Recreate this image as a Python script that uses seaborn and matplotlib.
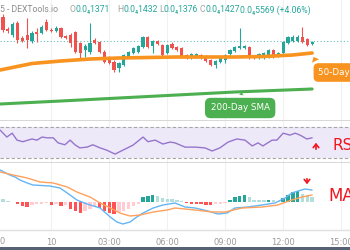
import matplotlib
matplotlib.use("Agg")
import matplotlib.pyplot as plt
import numpy as np
import seaborn as sns

# ---- price candles (15 min bars, index 0 = 21:30) ----
opens = [1451, 1439, 1433, 1445, 1430, 1433, 1427, 1436, 1435, 1446,
         1438, 1437, 1440, 1432, 1433, 1436, 1425, 1418, 1416, 1428,
         1426, 1416, 1411, 1406, 1400, 1403, 1411, 1415, 1416, 1421,
         1431, 1422, 1427, 1423, 1415, 1424, 1421, 1420, 1413, 1410,
         1411, 1413, 1412, 1408, 1403, 1406, 1408, 1414, 1417, 1420,
         1420, 1421, 1412, 1410, 1410, 1411, 1418, 1412, 1415, 1425,
         1427, 1427, 1431, 1429, 1424]
highs = [1454, 1441, 1446, 1447, 1432, 1450, 1437, 1440, 1443, 1449,
         1440, 1442, 1441, 1433, 1435, 1437, 1426, 1424, 1445, 1430,
         1427, 1418, 1412, 1408, 1406, 1414, 1417, 1421, 1423, 1432,
         1432, 1428, 1428, 1424, 1424, 1426, 1422, 1421, 1414, 1415,
         1415, 1414, 1413, 1409, 1408, 1411, 1414, 1419, 1422, 1440,
         1423, 1422, 1413, 1415, 1416, 1419, 1419, 1416, 1427, 1432,
         1433, 1433, 1441, 1430, 1427]
lows = [1436, 1435, 1431, 1425, 1426, 1420, 1425, 1426, 1434, 1437,
        1436, 1436, 1430, 1429, 1421, 1415, 1410, 1411, 1414, 1424,
        1415, 1405, 1404, 1396, 1396, 1402, 1410, 1414, 1415, 1420,
        1420, 1415, 1423, 1412, 1414, 1419, 1417, 1410, 1409, 1409,
        1410, 1409, 1406, 1402, 1400, 1405, 1405, 1413, 1416, 1419,
        1419, 1409, 1409, 1409, 1409, 1410, 1410, 1411, 1414, 1424,
        1426, 1426, 1425, 1422, 1423]
closes = [1438, 1437, 1444, 1428, 1427, 1428, 1435, 1434, 1441, 1438,
          1437, 1440, 1431, 1430, 1425, 1416, 1415, 1422, 1425, 1425,
          1416, 1406, 1405, 1398, 1405, 1413, 1416, 1420, 1422, 1431,
          1421, 1427, 1424, 1413, 1423, 1420, 1418, 1411, 1410, 1414,
          1414, 1410, 1407, 1403, 1407, 1410, 1413, 1418, 1421, 1422,
          1422, 1410, 1410, 1414, 1415, 1418, 1411, 1415, 1426, 1431,
          1431, 1431, 1426, 1423, 1426]
last_price = 1427

sma50_pos = [-0.6, 6, 12, 18, 24, 30, 36, 42, 48, 54, 60, 64]
sma50 = [1398, 1404.5, 1407, 1409, 1410, 1410.5, 1411, 1411, 1411, 1411.5, 1413, 1415]
sma200_pos = [-0.6, 12, 24, 36, 48, 64]
sma200 = [1364, 1367, 1370, 1373, 1376, 1379]

# ---- RSI ----
rsi_pos = [-0.6, 0.8, 1.9, 2.9, 4.1, 6.0, 7.0, 8.1, 9.1, 10.4, 11.4, 12.8, 13.9, 14.9, 15.9,
           17.4, 18.6, 20.1, 21.5, 23.2, 24.8, 26.9, 29.0, 30.0, 31.5, 33.1, 34.6, 35.6, 37.7,
           39.8, 41.8, 43.3, 44.9, 46.6, 48.4, 50.1, 51.6, 52.8, 53.8, 55.7, 56.7, 58.0, 59.4,
           60.5, 61.5, 62.9, 64.0]
rsi_val = [66, 57, 62, 53, 51, 54.5, 53, 57, 56, 56, 49.5, 47, 53, 47, 43,
           44, 47, 43, 40, 35, 40, 46.5, 57, 51, 53, 48, 50.5, 49.5, 44,
           44, 43, 39, 43, 50.5, 54.5, 53, 45.5, 49.5, 45.5, 53, 53, 62, 59.5,
           62, 59.5, 54.5, 56]

# ---- MACD ----
macd_pos = [-0.6, 1.4, 2.5, 3.5, 5.0, 6.2, 9.7, 11.8, 13.3, 15.3, 17.4, 20.1, 22.2, 23.6, 24.8,
            26.3, 27.7, 29.0, 31.1, 33.1, 35.6, 37.7, 39.8, 42.4, 44.5, 46.4, 48.0, 50.7, 53.6,
            56.3, 58.4, 59.8, 61.1, 62.5, 64.0]
macd_val = [32, 27, 25, 22, 19, 17, 16, 14, 9, 2, -2, -6, -15, -20, -22,
            -20, -15, -11, -6, -3, -1, -5, -6, -9, -12, -11, -6, -5, -3,
            -1, 4, 9, 11, 13, 12]
signal_pos = [-0.6, 2.1, 5.0, 7.7, 10.4, 13.3, 15.3, 18.0, 20.1, 22.2, 24.2, 26.3, 28.4,
              31.1, 34.0, 35.6, 39.8, 43.3, 46.0, 49.5, 53.6, 56.9, 59.8, 61.9, 64.0]
signal_val = [30, 27, 24, 20, 19, 15, 10, 5, -1, -6, -11, -14, -13,
              -10, -8, -6, -8, -10, -10, -6, -5, -3, 2, 5, 7]
hist = [3, 1.5, 0.5, -2, -3.5, -5, -3, -2, -1.5, -1,
        -2.5, -1.5, -4, -2.5, -6.5, -8.5, -11, -8.5, -6.5, -5,
        -6, -8.5, -11, -12, -10, -8.5, -6.5, -3.5, -1.5, 5,
        6, 6.7, 5.7, 4.3, 3.3, 3.0, 2.3, 1.5, -0.7, -1.7,
        -1.8, -1.9, -2.5, -3.3, -2.3, -1.7, -0.7, 2.3, 5, 6.5,
        6.8, 5, 2.3, 2.0, 1.7, 2.3, 1.7, 1.5, 4.3, 7.5,
        10, 11, 8.3, 6.7, 5]

tick_pos = [10, 22, 34, 46, 58, 70]
tick_labels = ["10", "03:00", "06:00", "09:00", "12:00", "15:00"]

GREEN = "#26a69a"
RED = "#ef5350"
ORANGE = "#f7931e"
SMA_GREEN = "#4caf50"
PURPLE = "#9575cd"
GRID = "#f1f1f1"
NOTE_RED = "#f0141e"

sns.set_theme(style="white")
plt.rcParams["font.family"] = ["DejaVu Sans"]

fig = plt.figure(figsize=(3.5, 2.5), dpi=100)
ax_p = fig.add_axes([0, 0.516, 1, 0.484])
ax_r = fig.add_axes([0, 0.348, 1, 0.168])
ax_m = fig.add_axes([0, 0.08, 1, 0.268])
XLIM = (-0.62, 71.84)

for ax in (ax_p, ax_r, ax_m):
    ax.set_xlim(*XLIM)
    for s in ("left", "right", "top"):
        ax.spines[s].set_visible(False)
    ax.spines["bottom"].set_color("#d4d4d4")
    ax.spines["bottom"].set_linewidth(1.3)
    ax.set_yticks([])
    ax.set_xticks(tick_pos)
    for t in tick_pos:
        ax.axvline(t, color=GRID, lw=0.8, zorder=0)
    ax.tick_params(axis="x", length=0, labelbottom=False)

# price panel
o, h, l, c = map(np.array, (opens, highs, lows, closes))
idx = np.arange(len(o))
cols = np.where(c >= o, GREEN, RED)
ax_p.vlines(idx, l, h, colors=cols, lw=0.8, zorder=3)
ax_p.bar(idx, np.maximum(np.abs(c - o), 0.9), bottom=np.minimum(o, c), width=0.66,
         color=cols, linewidth=0, zorder=3)
ax_p.axhline(last_price, color=GREEN, lw=0.8, ls=(0, (1, 2)), alpha=0.7, zorder=2)
sns.lineplot(x=sma50_pos, y=sma50, ax=ax_p, color=ORANGE, lw=2.6, zorder=4)
sns.lineplot(x=sma200_pos, y=sma200, ax=ax_p, color=SMA_GREEN, lw=2.2, zorder=4)
ax_p.set_ylim(1347, 1468)
ax_p.set_xlim(*XLIM)

ax_p.annotate("50-Day SMA", xy=(64.0, 1413.5), xytext=(65.3, 1395.5), textcoords="data",
              ha="left", va="center", fontsize=6.3, color="white", annotation_clip=False,
              bbox=dict(boxstyle="round,pad=0.55", fc=ORANGE, ec="none"),
              arrowprops=dict(arrowstyle="wedge,tail_width=0.9", fc=ORANGE, ec="none",
                              relpos=(0.02, 0.95)), zorder=5)
ax_p.annotate("200-Day SMA", xy=(49.5, 1378.5), xytext=(49.1, 1360), textcoords="data",
              ha="center", va="center", fontsize=6.3, color="white",
              bbox=dict(boxstyle="round,pad=0.65", fc=SMA_GREEN, ec="none"),
              arrowprops=dict(arrowstyle="wedge,tail_width=0.5", fc=SMA_GREEN, ec="none",
                              relpos=(0.5, 1.0)), zorder=5)

# RSI panel
ax_r.axhspan(30, 70, color="#eee9f8", lw=0, zorder=0)
ax_r.axhline(70, color="#a5a5a5", lw=0.8, ls=(0, (3, 2)))
ax_r.axhline(30, color="#a5a5a5", lw=0.8, ls=(0, (3, 2)))
sns.lineplot(x=rsi_pos, y=rsi_val, ax=ax_r, color=PURPLE, lw=1.0)
ax_r.set_ylim(23.5, 77.7)
ax_r.set_xlim(*XLIM)

# MACD panel
hcols = []
for i, v in enumerate(hist):
    prev = hist[i - 1] if i > 0 else v
    if v >= 0:
        hcols.append("#26a69a" if v > prev else "#b2dfdb")
    else:
        hcols.append("#ff5252" if v < prev else "#ffcdd2")
ax_m.bar(idx, hist, width=0.7, color=hcols, linewidth=0, zorder=2)
sns.lineplot(x=macd_pos, y=macd_val, ax=ax_m, color="#64b5f6", lw=1.0, zorder=3)
sns.lineplot(x=signal_pos, y=signal_val, ax=ax_m, color="#ffa15c", lw=1.0, zorder=3)
ax_m.set_ylim(-28, 39)
ax_m.set_xlim(*XLIM)
ax_m.spines["bottom"].set_color("#e0e0e0")
ax_m.spines["bottom"].set_linewidth(1.0)
ax_m.tick_params(axis="x", labelbottom=True, labelsize=6, labelcolor="#9a9a9a", pad=6)
ax_m.set_xticklabels(tick_labels)
for a in (ax_p, ax_r, ax_m):
    a.set_xlabel("")
    a.set_ylabel("")
# tail of the 21:00 label, cut by the left edge
fig.text(0.0, 1 - 241 / 250, "0", fontsize=6, color="#9a9a9a", va="center", ha="left")

# header line
HF = ["Roboto", "DejaVu Sans"]
Y = 1 - 10 / 250
fig.text(0 / 350, Y, "5 - DEXTools.io", fontsize=6.2, color="#8d8d8d", va="center", family=HF)
parts = [(70, "O", 76, "0.0\u20841371"), (117, "H", 123, "0.0\u20841432"),
         (159, "L", 164, "0.0\u20841376"), (199, "C", 205, "0.0\u20841427")]
for lx, letter, vx, val in parts:
    fig.text(lx / 350, Y, letter, fontsize=6.2, color="#a0a0a0", va="center", family=HF)
    fig.text(vx / 350, Y, val, fontsize=6.2, color=GREEN, va="center", family=HF)
fig.text(240 / 350, Y, "0.0\u20845569 (+4.06%)", fontsize=6.2, color=GREEN, va="center",
         family=HF)

# hand drawn notes
fig.text(332 / 350, 1 - 146 / 250, "RS", fontsize=11, color=NOTE_RED, va="center", ha="left")
fig.text(328 / 350, 1 - 196 / 250, "MA", fontsize=12, color=NOTE_RED, va="center", ha="left")
fig.add_artist(matplotlib.patches.FancyArrowPatch(
    (316 / 350, 1 - 152 / 250), (316 / 350, 1 - 140 / 250), transform=fig.transFigure,
    arrowstyle="->,head_length=2.5,head_width=2", color=NOTE_RED, lw=1.2))
fig.add_artist(matplotlib.patches.FancyArrowPatch(
    (307 / 350, 1 - 176 / 250), (307 / 350, 1 - 187 / 250), transform=fig.transFigure,
    arrowstyle="->,head_length=2.5,head_width=2", color=NOTE_RED, lw=1.2))

# app frame strip at the bottom
fig.add_artist(matplotlib.patches.Rectangle((0, 0), 1, 3 / 250, transform=fig.transFigure,
                                            color="#566173", lw=0))

fig.savefig("out.png", dpi=100)
